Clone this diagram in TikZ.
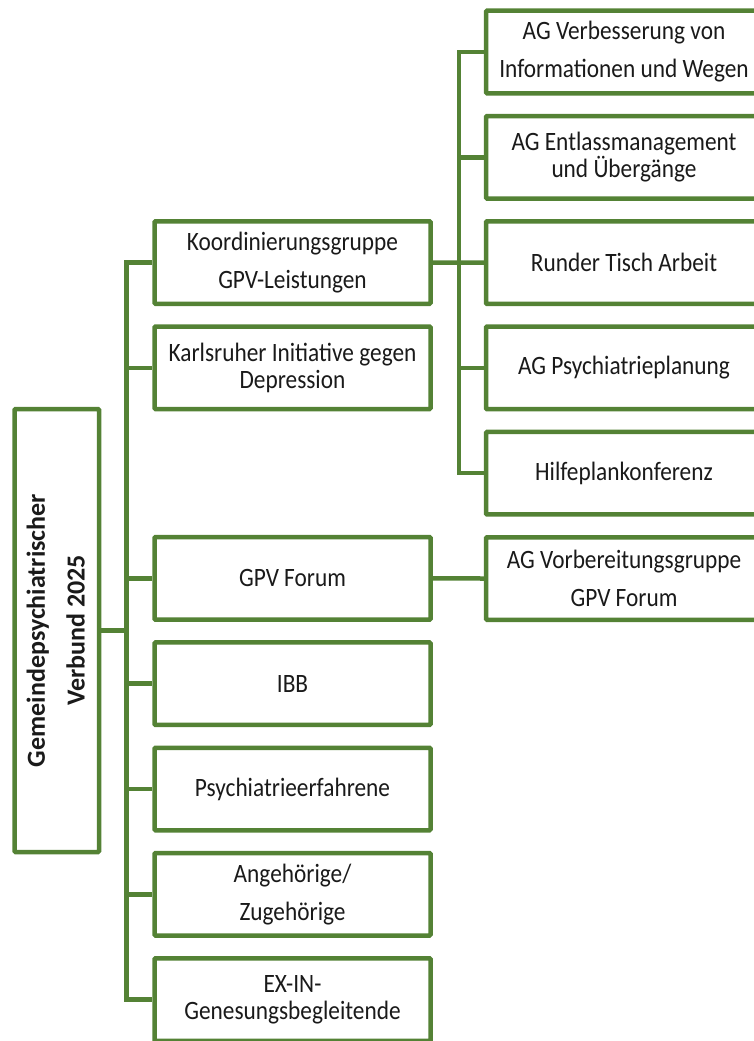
\documentclass[tikz,border=0pt]{standalone}
\usepackage{fontspec}
\setmainfont{Carlito}[UprightFeatures={FakeStretch=0.88}, BoldFeatures={FakeStretch=1.0}]
\definecolor{gpvgreen}{HTML}{548235}
\definecolor{gpvtext}{HTML}{1A1A1A}

\begin{document}
\begin{tikzpicture}[
            x=1pt, y=-1pt,
            node distance=105.3pt,
            box/.style={rectangle, draw=gpvgreen, line width=4.5pt, rounded corners=1pt, fill=white, text=gpvtext, minimum width=276pt, minimum height=82.5pt, align=center, font=\fontsize{26.5}{27}\selectfont},
            widebox/.style={box, font=\fontsize{26.5}{38}\selectfont},
            rootbox/.style={rectangle, draw=gpvgreen, line width=4.5pt, rounded corners=1pt, fill=white, text=gpvtext, minimum width=84.5pt, minimum height=443pt, inner sep=0pt},
            link/.style={draw=gpvgreen, line width=4.5pt}
            ]
            \useasboundingbox (0,0) rectangle (754,1041);
            \clip (0,0) rectangle (754,1041);

            % Root
            \node[rootbox] (root) at (56.75,630.5) {\rotatebox{90}{\fontsize{26}{40}\selectfont\bfseries\begin{tabular}{@{}c@{}}Gemeindepsychiatrischer\\Verbund 2025\end{tabular}}};
            \coordinate (trunk) at (126.5,0);
            \coordinate (sub) at (459,0);

            % Middle column
            \node[widebox] (koord) at (292.5,262.5) {Koordinierungsgruppe\\GPV-Leistungen};
            \node[box, below of=koord] (karls) {Karlsruher Initiative gegen\\Depression};
            \node[box, below of=karls, yshift=-105.3pt] (forum) {GPV Forum};
            \node[box, below of=forum] (ibb) {IBB};
            \node[box, below of=ibb] (psych) {Psychiatrieerfahrene};
            \node[widebox, below of=psych] (angeh) {Angehörige/\\Zugehörige};
            \node[box, below of=angeh] (exin) {EX-IN-\\Genesungsbegleitende};

            % Right column
            \node[widebox] (verbess) at (624,52) {AG Verbesserung von\\Informationen und Wegen};
            \node[box, below of=verbess] (entlass) {AG Entlassmanagement\\und Übergänge};
            \node[box, below of=entlass] (runder) {Runder Tisch Arbeit};
            \node[box, below of=runder] (psyplan) {AG Psychiatrieplanung};
            \node[box, below of=psyplan] (hilfe) {Hilfeplankonferenz};
            \node[widebox, below of=hilfe] (vorb) {AG Vorbereitungsgruppe\\GPV Forum};

            % Lines
            \draw[link] (root.east) -- (trunk|-root.east);
            \draw[link] (koord.west) -| (trunk|-exin.west) -- (exin.west);
            \draw[link] (trunk|-karls.west) -- (karls.west);
            \draw[link] (trunk|-forum.west) -- (forum.west);
            \draw[link] (trunk|-ibb.west) -- (ibb.west);
            \draw[link] (trunk|-psych.west) -- (psych.west);
            \draw[link] (trunk|-angeh.west) -- (angeh.west);
            \draw[link] (koord.east) -- (runder.west);
            \draw[link] (verbess.west) -| (sub|-hilfe.west) -- (hilfe.west);
            \draw[link] (sub|-entlass.west) -- (entlass.west);
            \draw[link] (sub|-psyplan.west) -- (psyplan.west);
            \draw[link] (forum.east) -- (vorb.west);

        \end{tikzpicture}
\end{document}
